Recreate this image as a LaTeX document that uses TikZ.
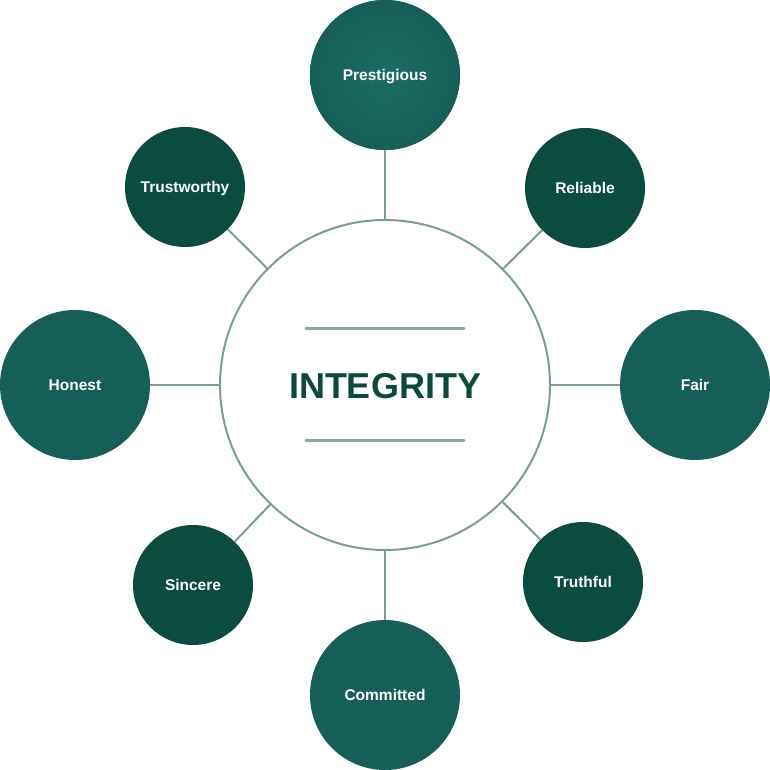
\documentclass[tikz,border=0pt]{standalone}
\usepackage{fontspec}
\setmainfont{Liberation Sans}
\definecolor{teal}{HTML}{165F58}
\definecolor{tealin}{HTML}{1A6D64}
\definecolor{darkteal}{HTML}{0A4D40}
\definecolor{linec}{HTML}{7A9E94}
\definecolor{barc}{HTML}{86A69D}
\definecolor{titlec}{HTML}{0B4A3C}
\tikzset{
  lab/.style={text=white, font=\bfseries\fontsize{15.5}{17}\selectfont, text height=11pt, text depth=0pt},
  bigc/.style={circle, fill=teal, minimum size=150pt, inner sep=0pt, lab},
  smallc/.style={circle, fill=darkteal, minimum size=120pt, inner sep=0pt, lab},
  hub/.style={circle, fill=white, draw=linec, line width=2pt, minimum size=330pt, inner sep=0pt},
  conn/.style={draw=linec, line width=2pt},
  bar/.style={draw=barc, line width=3pt, line cap=round}
}
\begin{document}
\begin{tikzpicture}[x=1pt, y=-1pt]
\useasboundingbox (0,0) rectangle (770,770);
\node[hub] (c) at (385,385) {};
\node[bigc, inner color=tealin, outer color=teal] (pre) at (385,75) {Prestigious};
\node[bigc] (hon) at (75,385) {Honest};
\node[bigc] (fair) at (695,385) {Fair};
\node[bigc] (com) at (385,695) {Committed};
\node[smallc] (tru) at (185,187) {Trustworthy};
\node[smallc] (rel) at (585,188) {Reliable};
\node[smallc] (sin) at (193,585) {Sincere};
\node[smallc] (tht) at (583,582) {Truthful};
\foreach \n in {pre,hon,fair,com,tru,rel,sin,tht} \draw[conn] (c) -- (\n);
\node[text=titlec, font=\bfseries\fontsize{36}{40}\selectfont, text height=26pt, text depth=0pt] (title) at (385,385) {INTEGRITY};
\coordinate (b1l) at (306,328); \coordinate (b1r) at (464,328);
\coordinate (b2l) at (306,440); \coordinate (b2r) at (464,440);
\draw[bar] (b1l) -- (b1r);
\draw[bar] (b2l) -- (b2r);
\end{tikzpicture}
\end{document}
